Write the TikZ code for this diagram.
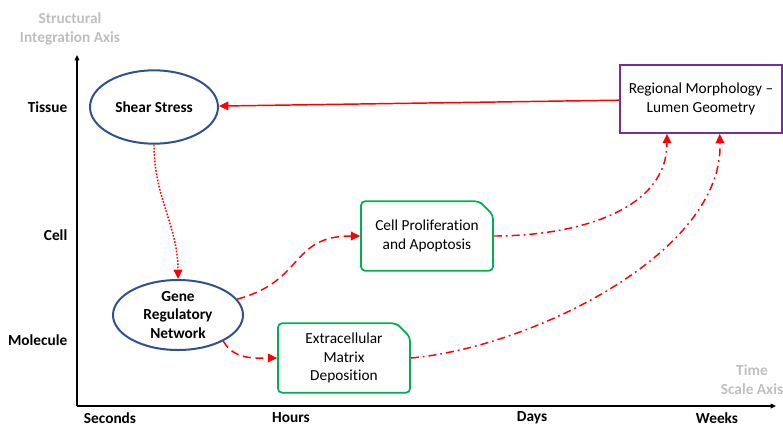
\documentclass[tikz,border=0pt]{standalone}
\usepackage{fontspec}
\setmainfont{Carlito}[Ligatures=NoCommon]
\usetikzlibrary{arrows.meta, positioning, shapes.geometric, shapes.misc}

\definecolor{ellblue}{RGB}{47,82,143}
\definecolor{boxgreen}{RGB}{0,176,80}
\definecolor{boxpurple}{RGB}{112,48,160}
\definecolor{axisgray}{RGB}{191,191,191}

\begin{document}
\begin{tikzpicture}[
        x=0.75pt, y=-0.75pt,
        font=\fontsize{11.5}{14}\selectfont,
        scale_node/.style={ellipse, draw=ellblue, line width=1.5pt, align=center, inner sep=0pt, font=\fontsize{11.5}{14}\selectfont\bfseries},
        process_box/.style={chamfered rectangle, chamfered rectangle corners=north east, chamfered rectangle xsep=7pt, draw=boxgreen, line width=1.3pt, rounded corners=3pt, minimum width=99pt, minimum height=52pt, align=center, inner sep=2pt},
        level_label/.style={font=\fontsize{11.5}{14}\selectfont\bfseries},
        axis_title/.style={text=axisgray, align=center, font=\fontsize{11.5}{14}\selectfont\bfseries},
        dash_link/.style={dash pattern=on 6pt off 3.5pt},
        dashdot_link/.style={dash pattern=on 6pt off 3pt on 1.3pt off 3pt},
        dot_link/.style={dash pattern=on 1.2pt off 1.2pt},
        every edge/.style={draw=red, line width=1.1pt, -{Triangle[length=7pt, width=6.5pt]}}
    ]
        \useasboundingbox (0,0) rectangle (783,426);

        % Ejes
        \coordinate (origin) at (77,406);
        \coordinate (ytop) at (77,55);
        \coordinate (xend) at (776,406);
        \draw[line width=0.9pt, -{Triangle[length=4pt, width=3.5pt]}] (origin) -- (ytop);
        \draw[line width=0.9pt, -{Triangle[length=4pt, width=3.5pt]}] (origin) -- (xend);

        \node[axis_title] (ytitle) at (70,29) {Structural\\Integration Axis};
        \node[axis_title] (xtitle) at (752,380) {Time\\Scale Axis};

        % Niveles y escalas de tiempo
        \node[level_label, anchor=east] (tissue) at (72,107) {Tissue};
        \node[level_label, anchor=east] (cell) at (72,235) {Cell};
        \node[level_label, anchor=east] (molecule) at (72,340) {Molecule};
        \node[level_label] (seconds) at (110,418) {Seconds};
        \node[level_label] (hours) at (291,418) {Hours};
        \node[level_label] (days) at (532,418) {Days};
        \node[level_label] (weeks) at (717,418) {Weeks};

        % Nodos
        \node[scale_node, minimum width=96pt, minimum height=55pt] (shear) at (154,107) {Shear Stress};
        \node[scale_node, minimum width=97.5pt, minimum height=52.5pt] (gene) at (178,315) {Gene\\Regulatory\\Network};
        \node[process_box] (prolif) at (427,236) {Cell Proliferation\\and Apoptosis};
        \node[process_box] (ecm) at (344,358) {Extracellular\\Matrix\\Deposition};
        \node[draw=boxpurple, line width=1.3pt, minimum width=121.5pt, minimum height=51pt, align=center] (morph) at (701,99) {Regional Morphology --\\Lumen Geometry};

        % Conexiones
        \path (morph) edge (shear);
        \path (shear) edge[dot_link, out=-90, in=90] (gene);
        \path (gene) edge[dash_link, out=15, in=180, looseness=1.3] (prolif);
        \path (gene.-30) edge[dash_link, out=-60, in=180] (ecm.west);
        \path (prolif.east) edge[dashdot_link, out=0, in=-90] ([xshift=-25.5pt]morph.south);
        \path (ecm.east) edge[dashdot_link, out=5, in=-88, looseness=0.8] ([xshift=14pt]morph.south);
    \end{tikzpicture}
\end{document}
